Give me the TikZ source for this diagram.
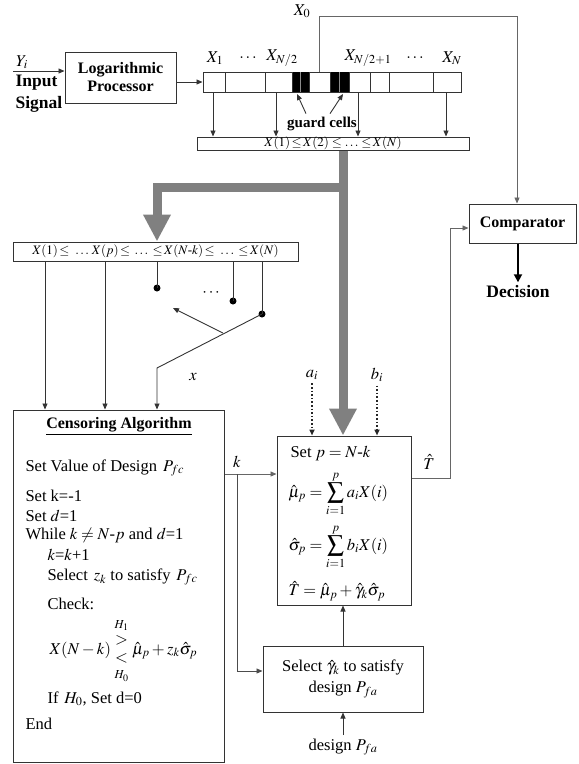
\documentclass[tikz,border=0pt]{standalone}
\usepackage{amsmath}
\usepackage{mathptmx}
\usepackage{fontspec}
\setmainfont{Liberation Serif}
\usetikzlibrary{arrows.meta,calc}
\begin{document}
\begin{tikzpicture}[x=1pt,y=-1pt,
  ln/.style={draw=black!80, line width=0.9pt},
  arr/.style={ln, -{Triangle[length=6pt,width=5pt]}},
  dotarr/.style={draw=black!85, line width=1.6pt, dotted, -{Triangle[length=6pt,width=5pt]}},
  box/.style={draw=black!80, line width=1pt, inner sep=0pt, fill=white},
  bfont/.style={font=\fontsize{16}{18}\selectfont\bfseries},
  lfont/.style={font=\fontsize{17.5}{19}\selectfont\bfseries},
  nfont/.style={font=\fontsize{16.5}{19}\selectfont},
  sfont/.style={font=\fontsize{13}{15}\selectfont},
  grayarrow/.style={draw=black!50, line width=9pt, line join=miter, -{Triangle[length=27pt,width=26pt]}},
  dot/.style={circle, fill=black, inner sep=0pt, minimum size=7pt},
  ]
\useasboundingbox (0,0) rectangle (579,764);

% ---------- boxes ----------
\node[box, minimum width=111pt, minimum height=51pt, align=center, bfont] (lp) at (120.5,77.5) {Logarithmic\\Processor};
\node[box, minimum width=258pt, minimum height=20pt] (reg) at (332,82) {};
\node[box, minimum width=272pt, minimum height=13pt] (sort1) at (333,143.5) {};
\node[box, minimum width=107pt, minimum height=39pt] (cmp) at (522.5,223.5) {};
\node[box, minimum width=285pt, minimum height=19pt] (sort2) at (155.5,251.5) {};
\node[box, minimum width=211pt, minimum height=352pt] (cens) at (118.5,586) {};
\node[box, minimum width=134pt, minimum height=169pt] (setb) at (344,520.5) {};
\node[box, minimum width=160pt, minimum height=66pt] (sel) at (343,679) {};

% ---------- register cells ----------
\fill[black] (292,72) rectangle (309,92);
\fill[black] (330,72) rectangle (349,92);
\foreach \cx in {225,265,370,389,433}{\draw[ln] (\cx,72) -- (\cx,92);}
\foreach \cx in {292,309,330,349}{\draw[ln] (\cx,72) -- (\cx,92);}
\foreach \cx in {300,339}{\draw[draw=black!45, line width=0.8pt] (\cx,72) -- (\cx,92);}

% ---------- texts ----------
\node[nfont] (yi) at (22,62) {$Y_i$};
\node[lfont, anchor=west] (inp) at (12,83) {Input};
\node[lfont, anchor=west] (sig) at (12,104) {Signal};
\node[nfont] (x0) at (302,11) {$X_0$};
\node[nfont] (x1) at (215,58) {$X_1$};
\node[nfont] (d1) at (248,58) {$\ldots$};
\node[nfont] (xn2) at (282,58) {$X_{N/2}$};
\node[nfont] (xn21) at (368,58) {$X_{N/2+1}$};
\node[nfont] (d2) at (415,58) {$\ldots$};
\node[nfont] (xn) at (452,58) {$X_N$};
\node[font=\fontsize{15}{17}\selectfont\bfseries] (gc) at (322,124) {guard cells};
\node[sfont] (s1t) at (333,143.5) {$X(1)\!\le\! X(2)\le\ldots\le\! X(N)$};
\node[bfont] (cmpt) at (cmp.center) {Comparator};
\node[lfont] (dec) at (518,292) {Decision};
\node[sfont] (s2t) at (sort2.center) {$X(1)\!\le\;\ldots\,X(p)\!\le\,\ldots\,\le\! X(N\text{-}k)\!\le\;\ldots\,\le\! X(N)$};
\node[nfont] (dd) at (212,293) {$\cdots$};
\node[nfont] (xl) at (193,377) {$\boldsymbol{x}$};

% censoring algorithm text
\node[bfont] (ct) at (119,426) {\underline{Censoring Algorithm}};
\node[nfont, anchor=west] (c1) at (22,468) {Set Value of Design $\,P_{fc}$};
\node[nfont, anchor=west] (c2) at (22,496) {Set k=-1};
\node[nfont, anchor=west] (c3) at (22,516) {Set $d$=1};
\node[nfont, anchor=west] (c4) at (22,535) {While $k\neq N$-$p$ and $d$=1};
\node[nfont, anchor=west] (c5) at (44,555) {$k$=$k$+1};
\node[nfont, anchor=west] (c6) at (44,577) {Select $\,z_k$ to satisfy $\,P_{fc}$};
\node[nfont, anchor=west] (c7) at (44,604) {Check:};
\node[nfont, anchor=west] (c8) at (46,650) {$X(N-k)\;\renewcommand{\arraystretch}{0.95}\begin{array}{@{}c@{}}{\scriptstyle H_1}\\[-2pt] >\\ <\\[-2pt] {\scriptstyle H_0}\end{array}\;\hat{\mu}_p+z_k\hat{\sigma}_p$};
\node[nfont, anchor=west] (c9) at (44,699) {If $\,H_0$, Set d=0};
\node[nfont, anchor=west] (c10) at (22,724) {End};

% set box text
\node[nfont, anchor=west] (e1) at (287,453) {Set $p=N$-$k$};
\node[nfont, anchor=west] (e2) at (285,494) {$\displaystyle\hat{\mu}_p=\sum_{i=1}^{p}a_iX(i)$};
\node[nfont, anchor=west] (e3) at (285,547) {$\displaystyle\hat{\sigma}_p=\sum_{i=1}^{p}b_iX(i)$};
\node[nfont, anchor=west] (e4) at (285,591) {$\hat{T}=\hat{\mu}_p+\hat{\gamma}_k\hat{\sigma}_p$};
\node[nfont, align=center] (selt) at (sel.center) {Select $\hat{\gamma}_k$ to satisfy\\[2pt] design $P_{fa}$};
\node[nfont] (dpfa) at (343,747) {design $P_{fa}$};
\node[nfont] (ai) at (312,375) {$a_i$};
\node[nfont] (bi) at (377,375) {$b_i$};
\node[nfont] (kl) at (237,462) {$k$};
\node[nfont] (tl) at (429,462) {$\hat{T}$};

% ---------- connectors ----------
\coordinate (inp0) at (13,71);
\draw[arr] (inp0) -- (lp.west |- inp0);
\draw[arr] (lp.east |- reg.west) -- (reg.west);
\draw[arr, draw=black!60] (reg.north -| 319,0) -- (319,16) -- (517,16) -- (cmp.north -| 517,0);
\draw[draw=black, line width=1.8pt, -{Triangle[length=8pt,width=8pt]}] (cmp.south -| 518,0) -- (dec.north -| 518,0);
\draw[arr, draw=black!60] (setb.east |- 0,478) -- (450,478) -- (450,228) -- (cmp.west |- 0,228);
\foreach \cx in {213,276,358,446}{\draw[arr] (reg.south -| \cx,0) -- (sort1.north -| \cx,0);}
\draw[arr] (gc.north -| 306,0) -- (297,94);
\draw[arr] (gc.north -| 330,0) -- (343,94);

% thick gray arrows
\draw[grayarrow] (sort1.south -| 343,0) -- (setb.north -| 343,0);
\draw[grayarrow] (343,187) -- (157,187) -- (sort2.north -| 157,0);

% sorted list 2 outputs
\draw[arr] (sort2.south -| 45,0) -- (cens.north -| 45,0);
\draw[arr] (sort2.south -| 105,0) -- (cens.north -| 105,0);
\node[dot] (p1) at (157,288) {};
\node[dot] (p2) at (233,301) {};
\node[dot] (p3) at (262,314) {};
\draw[ln] (sort2.south -| 157,0) -- (p1.center);
\draw[ln] (sort2.south -| 233,0) -- (p2.center);
\draw[ln] (sort2.south -| 262,0) -- (p3.center);
\draw[arr] (p3.center) -- (157,368) -- (cens.north -| 157,0);
\draw[arr] (223,333) -- (173,308);

% censoring -> set
\draw[arr, draw=black!60] (cens.east |- 0,474) -- (setb.west |- 0,474);
\draw[arr, draw=black!70] (237,474) -- (237,671) -- (sel.west |- 0,671);
\draw[dotarr] (ai.south) -- (setb.north -| ai.south);
\draw[dotarr] (bi.south) -- (setb.north -| bi.south);
\draw[arr] (sel.north) -- (setb.south -| sel.north);
\draw[arr] (dpfa.north) -- (sel.south);
\end{tikzpicture}
\end{document}
